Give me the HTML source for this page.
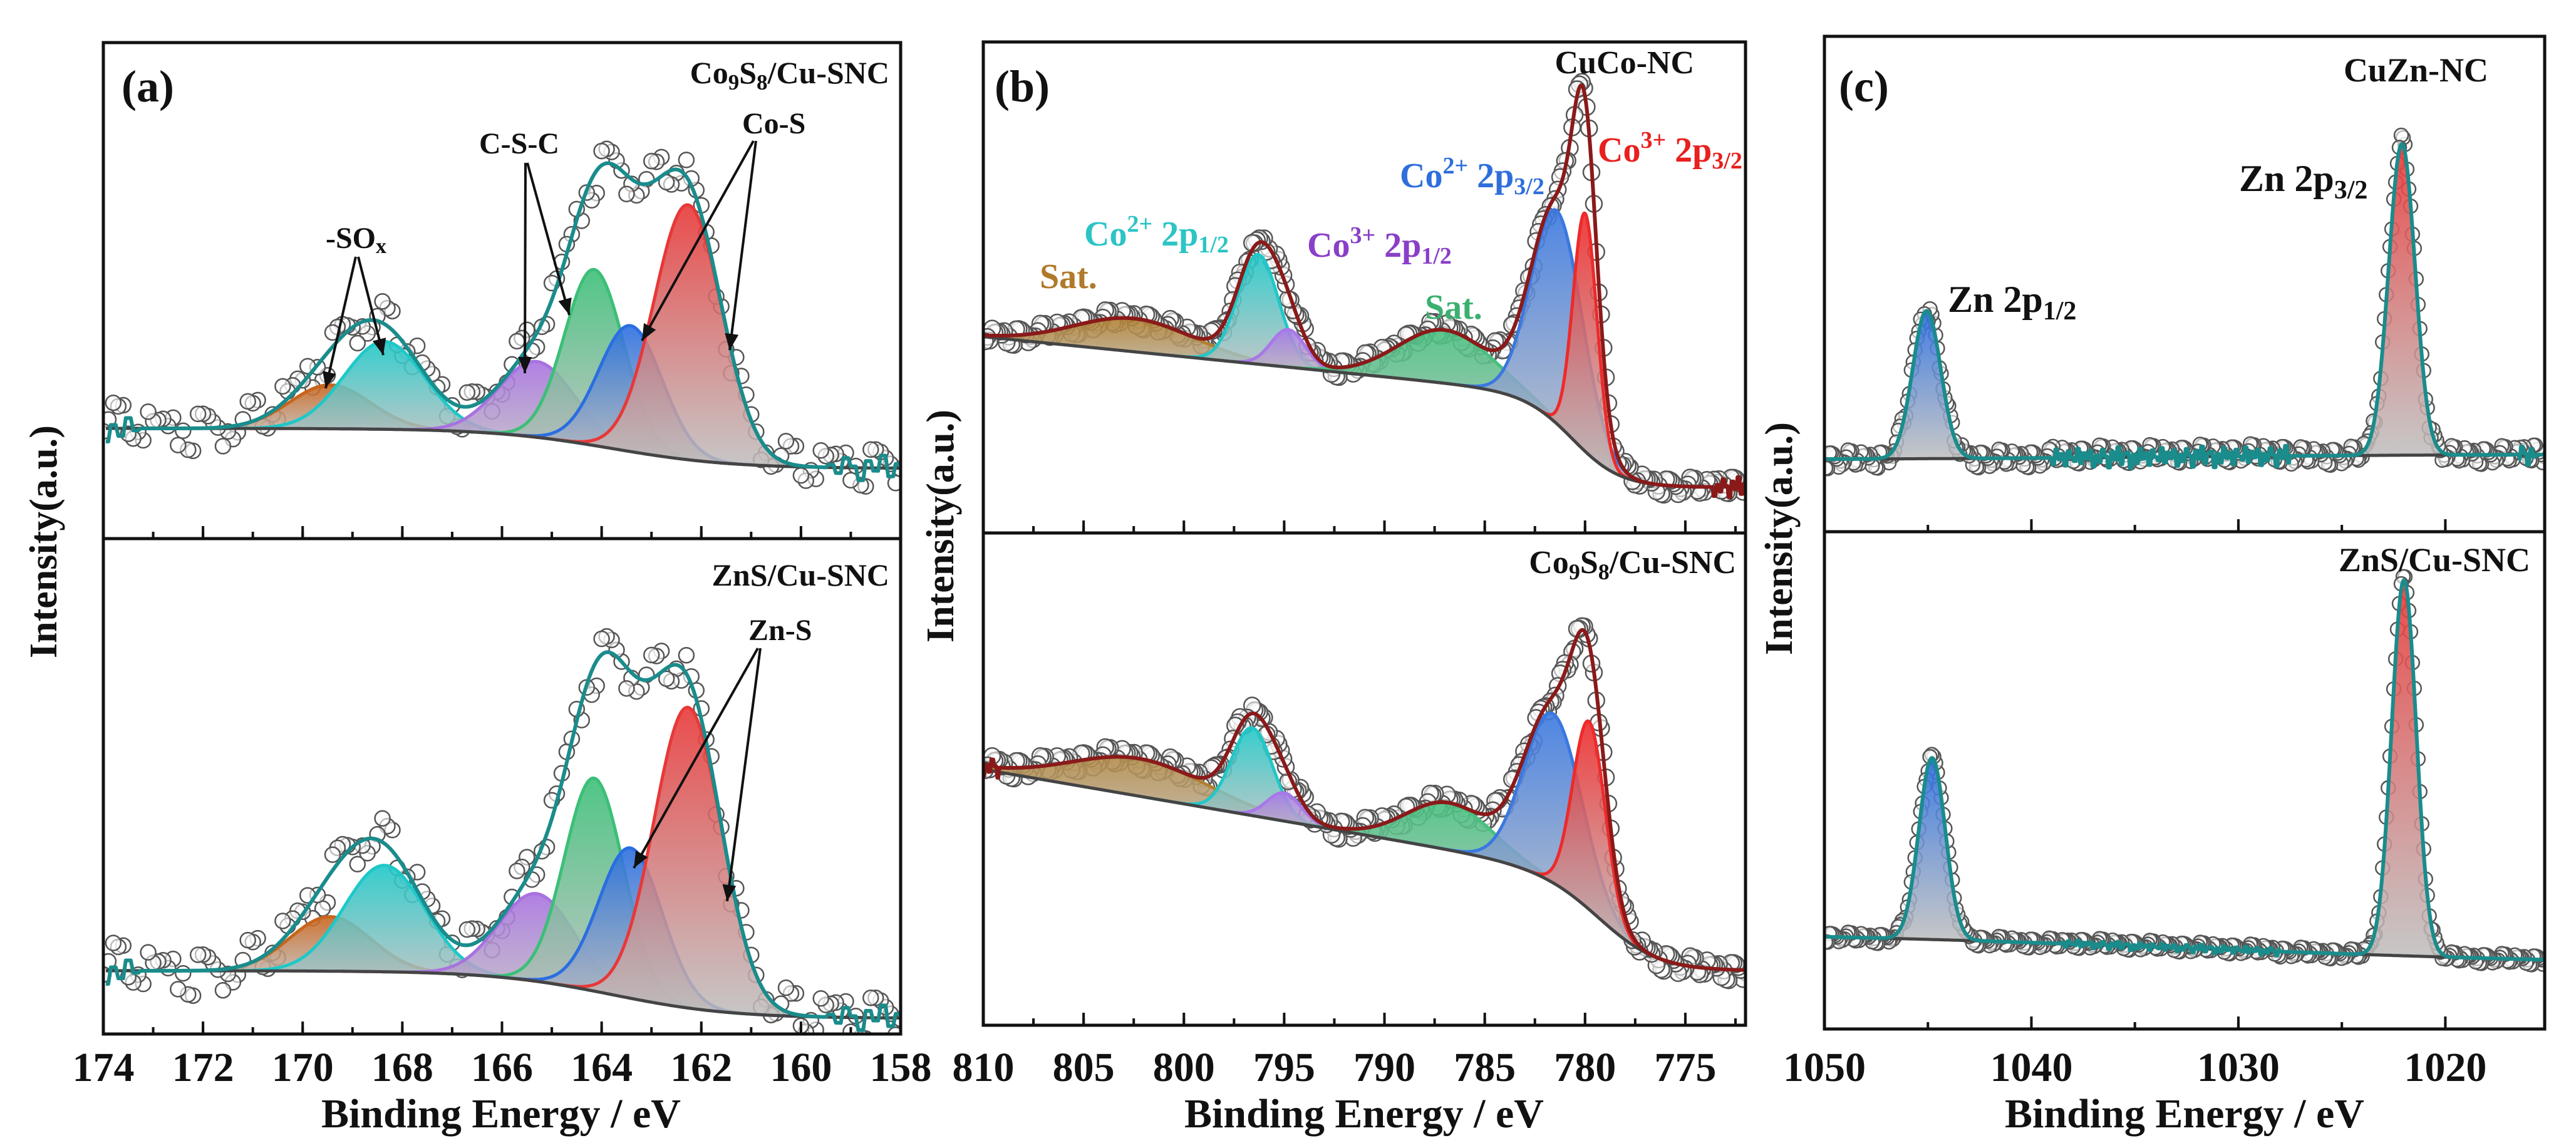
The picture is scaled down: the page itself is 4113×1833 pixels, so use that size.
<!DOCTYPE html>
<html><head><meta charset="utf-8">
<style>
html,body{margin:0;padding:0;background:#fff;}
svg{display:block;font-family:"Liberation Serif","DejaVu Serif",serif;font-weight:bold;}
</style></head>
<body>
<svg id="fig" width="4113" height="1833" viewBox="0 0 4113 1833" xmlns="http://www.w3.org/2000/svg">
<defs id="defs"></defs>
<g id="marks"></g>
<g id="frames" fill="none" stroke="#111" stroke-width="5">
  <rect x="165" y="68" width="1273" height="1583"/>
  <line x1="165" y1="860" x2="1438" y2="860"/>
  <rect x="1570" y="67" width="1217" height="1570"/>
  <line x1="1570" y1="851" x2="2787" y2="851"/>
  <rect x="2913" y="58" width="1150" height="1585"/>
  <line x1="2913" y1="849" x2="4063" y2="849"/>
</g>
<g id="ticks"></g>
<g fill="#111">
  <text font-size="62" text-anchor="middle" transform="translate(90,865) rotate(-90)">Intensity(a.u.)</text>
  <text font-size="62" text-anchor="middle" transform="translate(1522,840) rotate(-90)">Intensity(a.u.)</text>
  <text font-size="62" text-anchor="middle" transform="translate(2861,860) rotate(-90)">Intensity(a.u.)</text>
  <text font-size="66" text-anchor="middle" x="800" y="1800">Binding Energy / eV</text>
  <text font-size="66" text-anchor="middle" x="2178" y="1800">Binding Energy / eV</text>
  <text font-size="66" text-anchor="middle" x="3488" y="1800">Binding Energy / eV</text>
  <text font-size="72" x="194" y="162">(a)</text>
  <text font-size="72" x="1588" y="162">(b)</text>
  <text font-size="72" x="2936" y="162">(c)</text>
  <text font-size="50" text-anchor="end" x="1420" y="133">Co<tspan font-size="35" dy="10">9</tspan><tspan dy="-10">S</tspan><tspan font-size="35" dy="10">8</tspan><tspan dy="-10">/Cu-SNC</tspan></text>
  <text font-size="50" text-anchor="end" x="1420" y="935">ZnS/Cu-SNC</text>
  <text font-size="52" text-anchor="end" x="2705" y="117">CuCo-NC</text>
  <text font-size="52" text-anchor="end" x="2772" y="915">Co<tspan font-size="36" dy="10">9</tspan><tspan dy="-10">S</tspan><tspan font-size="36" dy="10">8</tspan><tspan dy="-10">/Cu-SNC</tspan></text>
  <text font-size="54" text-anchor="end" x="3973" y="130">CuZn-NC</text>
  <text font-size="54" text-anchor="end" x="4040" y="912">ZnS/Cu-SNC</text>
  <text font-size="48" x="520" y="396">-SO<tspan font-size="34" dy="8">x</tspan></text>
  <text font-size="48" x="765" y="245">C-S-C</text>
  <text font-size="48" x="1185" y="213">Co-S</text>
  <text font-size="48" x="1195" y="1022">Zn-S</text>
  <text font-size="56" fill="#b07a2a" x="1660" y="460">Sat.</text>
  <text font-size="56" fill="#2cc4c4" x="1731" y="392">Co<tspan font-size="38" dy="-22">2+</tspan><tspan dy="22"> 2p</tspan><tspan font-size="38" dy="11">1/2</tspan></text>
  <text font-size="56" fill="#8a3fc8" x="2087" y="410">Co<tspan font-size="38" dy="-22">3+</tspan><tspan dy="22"> 2p</tspan><tspan font-size="38" dy="11">1/2</tspan></text>
  <text font-size="56" fill="#3cb070" x="2275" y="509">Sat.</text>
  <text font-size="56" fill="#2f6fdc" x="2235" y="299">Co<tspan font-size="38" dy="-22">2+</tspan><tspan dy="22"> 2p</tspan><tspan font-size="38" dy="11">3/2</tspan></text>
  <text font-size="56" fill="#e8201e" x="2551" y="258">Co<tspan font-size="38" dy="-22">3+</tspan><tspan dy="22"> 2p</tspan><tspan font-size="38" dy="11">3/2</tspan></text>
  <text font-size="60" x="3575" y="305">Zn 2p<tspan font-size="42" dy="12">3/2</tspan></text>
  <text font-size="60" x="3110" y="498">Zn 2p<tspan font-size="42" dy="12">1/2</tspan></text>
</g>
<g id="arrows" stroke="#111" stroke-width="4" fill="none"></g>
<g id="ticklabels" fill="#111" font-size="66" text-anchor="middle"></g>
</svg>
<script>
// ---------- data ----------
const noise = [0.3,-0.6,0.9,-0.2,0.5,-0.9,0.1,0.7,-0.4,0.2,-0.8,0.6,-0.1,0.4,-0.5,0.8,-0.3,0.0,0.6,-0.7,0.35,-0.15,0.75,-0.55,0.25,-0.95,0.45];
// panel a (S 2p)
const aColors = ['#c8641c','#1ec8c8','#a872e0','#3cbf78','#2a6ee0','#e83838'];
const aCenters = [169.45,168.36,165.3,164.15,163.42,162.27];
const aFwhm = [1.9,1.9,1.8,1.4,1.5,1.6];
const aTopHeights = [70,140,121,281,201,407];
const aBotHeights = [87,170,140,340,240,480];
// panel b (Co 2p)
const bColors = ['#b08030','#20c8c8','#a878e8','#48c080','#3a78e0','#ee2a2a'];
const bTopCenters = [802.5,796.3,794.8,787.0,781.4,780.0];
const bTopFwhm = [7,2.4,2.0,5.5,3.0,1.4];
const bTopHeights = [53,175,60,85,340,380];
const bBotCenters = [802.2,796.6,795.0,786.8,781.6,779.8];
const bBotFwhm = [8,2.4,2.0,5,3.4,1.9];
const bBotHeights = [60,140,45,75,270,300];
// panel c (Zn 2p)
const cColors = ['#2a6ee0','#e83838'];
const cTopCenters = [1045.06,1022.1];
const cTopFwhm = [1.6,1.5];
const cTopHeights = [236,497];
const cBotCenters = [1044.8,1022.0];
const cBotFwhm = [1.5,1.4];
const cBotHeights = [290,600];
// ticks
const aMajor = [174,172,170,168,166,164,162,160,158];
const bMajor = [810,805,800,795,790,785,780,775];
const cMajor = [1050,1040,1030,1020];

const NS='http://www.w3.org/2000/svg';
const marks=document.getElementById('marks');
const defs=document.getElementById('defs');
function mk(tag,attrs,parent){const e=document.createElementNS(NS,tag);for(const k in attrs)e.setAttribute(k,attrs[k]);(parent||marks).appendChild(e);return e;}

const subs=[
 {id:'a-top',be0:174,be1:158,px0:165,px1:1438,top:68,bot:860,yRef:748,bgStep:64,bgSlope:0,bgC:163.8,bgW:1.2,
  centers:aCenters,fwhm:aFwhm,heights:aTopHeights,colors:aColors,edgeNoise:[[158,159.5],[173.3,174]],edgeAmp:22,
  env:'#1a8c8c',step:0.1,amp:38,r:12},
 {id:'a-bottom',be0:174,be1:158,px0:165,px1:1438,top:860,bot:1651,yRef:1626,bgStep:76,bgSlope:0,bgC:163.8,bgW:1.2,
  centers:aCenters,fwhm:aFwhm,heights:aBotHeights,colors:aColors,edgeNoise:[[158,159.5],[173.3,174]],edgeAmp:22,
  env:'#1a8c8c',step:0.1,amp:42,r:12},
 {id:'b-top',be0:810,be1:772,px0:1570,px1:2787,top:67,bot:851,yRef:778,bgStep:146,bgSlope:3.2,bgC:780.5,bgW:1.2,
  centers:bTopCenters,fwhm:bTopFwhm,heights:bTopHeights,colors:bColors,edgeNoise:[[772,773.6]],edgeAmp:18,
  env:'#8a1a1a',step:0.12,amp:16,r:13},
 {id:'b-bottom',be0:810,be1:772,px0:1570,px1:2787,top:851,bot:1637,yRef:1550,bgStep:151,bgSlope:5.5,bgC:779,bgW:1.5,
  centers:bBotCenters,fwhm:bBotFwhm,heights:bBotHeights,colors:bColors,edgeNoise:[[809.2,810]],edgeAmp:18,
  env:'#8a1a1a',step:0.12,amp:18,r:13},
 {id:'c-top',be0:1050,be1:1015.2,px0:2913,px1:4063,top:58,bot:849,yRef:725,bgStep:-9,bgSlope:0,bgC:1033,bgW:8,
  centers:cTopCenters,fwhm:cTopFwhm,heights:cTopHeights,colors:cColors,edgeNoise:[[1027.5,1039],[1015.6,1016.4]],edgeAmp:18,
  env:'#1a8c8c',step:0.09,amp:16,r:11},
 {id:'c-bottom',be0:1050,be1:1015.2,px0:2913,px1:4063,top:849,bot:1643,yRef:1544,bgStep:59,bgSlope:0,bgC:1032,bgW:12,
  centers:cBotCenters,fwhm:cBotFwhm,heights:cBotHeights,colors:cColors,edgeNoise:[[1028,1038.5]],edgeAmp:7,
  env:'#1a8c8c',step:0.09,amp:9,r:11}
];

function render(s,si){
  const xS=be=>s.px0+(s.be0-be)*(s.px1-s.px0)/(s.be0-s.be1);
  const yS=v=>s.yRef-v;
  const bg=be=>{const sg=1/(1+Math.exp(-(be-s.bgC)/s.bgW));return sg*(s.bgStep+s.bgSlope*(be-s.bgC));};
  const G=(be,i)=>s.heights[i]*Math.exp(-4*Math.LN2*Math.pow((be-s.centers[i])/s.fwhm[i],2));
  const inEdge=be=>s.edgeNoise.some(r=>be>=r[0]&&be<=r[1]);
  const env=(be,k)=>{let v=bg(be);for(let i=0;i<s.centers.length;i++)v+=G(be,i);if(inEdge(be))v+=noise[k%noise.length]*s.edgeAmp;return v;};
  const clipId='clip'+si;
  const cp=mk('clipPath',{id:clipId},defs);
  mk('rect',{x:s.px0,y:s.top,width:s.px1-s.px0,height:s.bot-s.top},cp);
  const g=mk('g',{'clip-path':'url(#'+clipId+')'});
  
  
  let k=0;
  for(let be=s.be1;be<=s.be0;be+=s.step,k++){
    const v=env(be,0)+noise[(k*7+3)%noise.length]*s.amp;
    const c=mk('circle',{cx:xS(be).toFixed(1),cy:yS(v).toFixed(1),r:s.r,fill:'rgba(255,255,255,0.6)',stroke:'#555','stroke-width':2.5},g);
    
    
  }
  for(let i=0;i<s.centers.length;i++){
    const gid='grad'+si+'_'+i;
    const lg=mk('linearGradient',{id:gid,x1:0,y1:0,x2:0,y2:1},defs);
    mk('stop',{offset:'0','stop-color':s.colors[i],'stop-opacity':0.9},lg);
    mk('stop',{offset:'1','stop-color':'#bdbdbd','stop-opacity':0.85},lg);
    const lo=s.centers[i]-2.2*s.fwhm[i],hi=s.centers[i]+2.2*s.fwhm[i];
    let top=[],base=[];
    for(let be=lo;be<=hi;be+=0.03){top.push(xS(be).toFixed(1)+','+yS(bg(be)+G(be,i)).toFixed(1));base.push(xS(be).toFixed(1)+','+yS(bg(be)).toFixed(1));}
    const p=mk('polygon',{points:top.concat(base.reverse()).join(' '),fill:'url(#'+gid+')'},g);
    
    
    const l=mk('polyline',{points:top.join(' '),fill:'none',stroke:s.colors[i],'stroke-width':5},g);
    
    
  }
  let bp=[];for(let be=s.be1;be<=s.be0;be+=0.05)bp.push(xS(be).toFixed(1)+','+yS(bg(be)).toFixed(1));
  const bl=mk('polyline',{points:bp.join(' '),fill:'none',stroke:'#444','stroke-width':5},g);
  
  
  let ep=[];k=0;for(let be=s.be1;be<=s.be0;be+=0.05,k++)ep.push(xS(be).toFixed(1)+','+yS(env(be,Math.floor(k/3))).toFixed(1));
  const el=mk('polyline',{points:ep.join(' '),fill:'none',stroke:s.env,'stroke-width':6,'stroke-linejoin':'round'},g);
  
  
}
subs.forEach(render);

const tickG=document.getElementById('ticks');
const tlG=document.getElementById('ticklabels');
function axisTicks(majors,be0,be1,px0,px1,minorStep,ys,labelY){
  const xS=be=>px0+(be0-be)*(px1-px0)/(be0-be1);
  majors.forEach(m=>{
    ys.forEach(y=>{mk('line',{x1:xS(m),x2:xS(m),y1:y,y2:y-20,stroke:'#111','stroke-width':4},tickG);});
    const t=mk('text',{x:xS(m),y:labelY},tlG);
    
    
    t.textContent=m;
  });
  for(let be=be0;be>=be1;be-=minorStep){
    ys.forEach(y=>{mk('line',{x1:xS(be),x2:xS(be),y1:y,y2:y-11,stroke:'#111','stroke-width':4},tickG);});
  }
}
axisTicks(aMajor,174,158,165,1438,1,[860,1651],1726);
axisTicks(bMajor,810,772,1570,2787,2.5,[851,1637],1726);
axisTicks(cMajor,1050,1015.2,2913,4063,5,[849,1643],1726);

const arrG=document.getElementById('arrows');
const arrows=[[568,410,520,620],[572,410,612,567],[839,260,838,596],[842,260,909,503],[1203,225,1025,544],[1207,225,1165,559],[1210,1035,1012,1386],[1214,1035,1161,1439]];
arrows.forEach(a=>{
  const [x1,y1,x2,y2]=a;
  mk('line',{x1,y1,x2,y2},arrG);
  const ang=Math.atan2(y2-y1,x2-x1),L=26,W=11;
  const bx=x2-L*Math.cos(ang),by=y2-L*Math.sin(ang);
  const p=mk('polygon',{points:`${x2},${y2} ${bx+W*Math.sin(ang)},${by-W*Math.cos(ang)} ${bx-W*Math.sin(ang)},${by+W*Math.cos(ang)}`,fill:'#111',stroke:'none'},arrG);
  
  
});
</script>
</body></html>
